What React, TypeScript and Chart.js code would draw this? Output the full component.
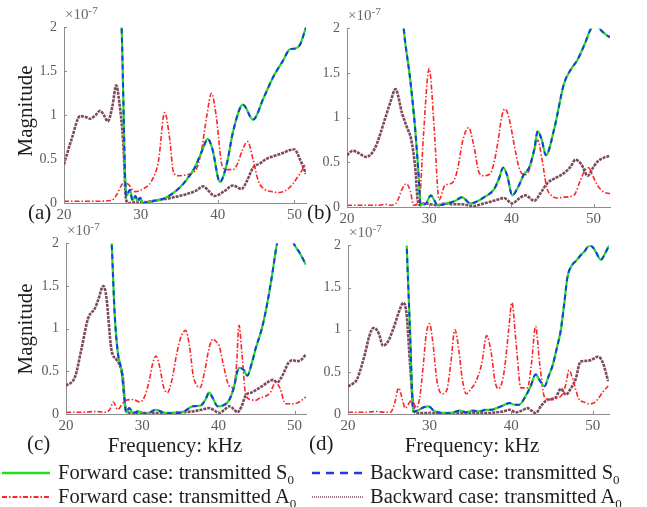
import React, { useEffect, useRef } from "react";
import { Chart, registerables } from "chart.js";
Chart.register(...registerables);

const SERIF = "'Liberation Serif', 'Times New Roman', serif";

// y tick values (units of 1e-7)
const yTicks = [0, 0.5, 1, 1.5, 2];
const xTickStep = 10;

// ---------- Panel (a) ----------
const aS0F = [27.2, 27.5, 28.1, 28.6, 28.9, 29.3, 29.6, 29.9, 30.3, 31.0, 32.0, 33.0, 34.0, 35.0, 36.0, 37.0, 38.0, 38.7, 39.3, 40.3, 41.2, 42.0, 43.3, 44.6, 46.0, 47.2, 48.5, 49.4, 50.1, 50.7, 51.5];
const aS0V = [2.6, 2.0, 0.08, 0.15, 0.03, 0.08, 0.02, 0.06, 0.0, 0.01, 0.03, 0.05, 0.1, 0.17, 0.27, 0.4, 0.6, 0.73, 0.62, 0.24, 0.45, 0.81, 1.12, 0.95, 1.2, 1.43, 1.62, 1.75, 1.76, 1.8, 2.0];
const aA0fF = [20, 22, 24, 26.2, 26.9, 27.4, 27.9, 28.5, 29.2, 30.3, 31.4, 32.3, 33.1, 33.8, 34.2, 34.8, 35.9, 36.6, 37.3, 37.9, 38.6, 39.2, 39.8, 40.6, 41.3, 42.0, 42.6, 43.2, 43.9, 44.6, 45.3, 45.9, 47.0, 48.0, 49.0, 49.8, 50.6, 51.5];
const aA0fV = [0.02, 0.02, 0.02, 0.03, 0.1, 0.19, 0.24, 0.2, 0.13, 0.16, 0.25, 0.48, 1.03, 0.7, 0.37, 0.31, 0.32, 0.34, 0.4, 0.6, 1.0, 1.25, 1.0, 0.42, 0.38, 0.38, 0.45, 0.6, 0.7, 0.5, 0.25, 0.17, 0.13, 0.12, 0.15, 0.22, 0.32, 0.45];
const aA0bF = [20, 21, 22.1, 22.8, 23.4, 24.1, 24.7, 25.2, 25.7, 26.3, 26.8, 27.2, 27.7, 28.1, 28.6, 29.5, 30.5, 32, 34, 35.9, 37.2, 38.1, 38.8, 39.6, 40.8, 42, 43.1, 43.8, 44.6, 45.5, 46.3, 47.5, 48.5, 49.3, 50.0, 50.7, 51.5];
const aA0bV = [0.44, 0.73, 0.99, 0.98, 0.96, 1.0, 1.05, 1.0, 0.93, 1.1, 1.34, 1.15, 0.7, 0.03, 0.0, 0.01, 0.01, 0.03, 0.06, 0.1, 0.14, 0.19, 0.14, 0.08, 0.13, 0.2, 0.16, 0.25, 0.4, 0.45, 0.5, 0.54, 0.57, 0.6, 0.61, 0.5, 0.33];

// ---------- Panel (b) ----------
const bS0F = [26.5, 26.9, 27.7, 28.3, 28.7, 28.95, 29.5, 30.2, 30.6, 31.0, 32.2, 33.2, 34.0, 35.0, 36.0, 36.7, 37.9, 38.5, 39.0, 39.5, 40.1, 40.8, 41.5, 42.2, 42.8, 43.2, 43.7, 44.2, 45.2, 46.4, 47.3, 48.0, 48.9, 49.7, 50.3, 51.0, 51.5, 52.0];
const bS0V = [2.5, 2.0, 1.42, 0.87, 0.37, 0.03, 0.03, 0.13, 0.08, 0.02, 0.04, 0.07, 0.11, 0.04, 0.07, 0.11, 0.2, 0.32, 0.44, 0.35, 0.13, 0.22, 0.36, 0.45, 0.65, 0.85, 0.75, 0.58, 0.87, 1.38, 1.55, 1.64, 1.82, 2.0, 2.04, 1.97, 1.93, 1.9];
const bA0fF = [20, 22, 24, 24.6, 25.4, 26.1, 26.7, 27.2, 27.7, 28.1, 28.8, 29.3, 30.0, 30.6, 31.2, 31.9, 32.8, 33.4, 34.1, 34.8, 35.4, 36.1, 36.7, 37.4, 37.9, 38.4, 38.8, 39.2, 39.7, 40.5, 41.0, 41.6, 42.2, 42.7, 43.2, 43.7, 44.3, 45.0, 45.6, 46.3, 47.6, 48.4, 49.0, 49.4, 49.9, 50.5, 51.2, 52.0];
const bA0fV = [0.02, 0.02, 0.02, 0.03, 0.02, 0.06, 0.2, 0.26, 0.18, 0.02, 0.07, 0.8, 1.55, 0.9, 0.08, 0.24, 0.27, 0.4, 0.75, 0.89, 0.7, 0.38, 0.35, 0.37, 0.5, 0.75, 1.0, 1.1, 1.0, 0.62, 0.42, 0.36, 0.42, 0.6, 0.75, 0.55, 0.22, 0.12, 0.1, 0.11, 0.13, 0.3, 0.42, 0.44, 0.35, 0.24, 0.17, 0.15];
const bA0bF = [20, 20.7, 21.5, 22.3, 23.0, 23.6, 24.6, 25.3, 25.9, 26.7, 27.3, 27.8, 28.3, 28.6, 28.9, 29.3, 29.6, 30.2, 31.0, 32.0, 33.0, 34.0, 35.4, 36.3, 37.1, 38.2, 39.1, 40.1, 41.0, 41.7, 42.8, 43.5, 44.4, 45.3, 46.4, 47.2, 47.8, 48.5, 49.3, 50.0, 50.5, 51.2, 51.9];
const bA0bV = [0.58, 0.63, 0.6, 0.56, 0.6, 0.7, 0.98, 1.18, 1.32, 1.05, 0.89, 0.76, 0.44, 0.08, 0.02, 0.04, 0.04, 0.03, 0.02, 0.04, 0.03, 0.03, 0.01, 0.03, 0.05, 0.08, 0.1, 0.04, 0.1, 0.13, 0.07, 0.15, 0.27, 0.32, 0.38, 0.45, 0.53, 0.48, 0.35, 0.45, 0.51, 0.55, 0.57];

// ---------- Panel (c) ----------
const cS0F = [25.8, 26.0, 26.4, 26.8, 27.3, 27.6, 27.9, 28.3, 28.8, 29.4, 30.5, 31.8, 33.1, 34.5, 35.5, 36.6, 37.7, 38.3, 38.8, 39.3, 39.9, 40.6, 41.4, 42.0, 42.7, 43.3, 43.8, 44.4, 44.9, 45.7, 46.4, 47.0, 47.7, 48.8, 49.9, 50.6, 51.5];
const cS0V = [2.4, 2.0, 1.15, 0.72, 0.5, 0.25, 0.02, 0.07, 0.01, 0.03, 0.0, 0.05, 0.01, 0.01, 0.03, 0.09, 0.1, 0.17, 0.25, 0.18, 0.09, 0.1, 0.16, 0.3, 0.54, 0.52, 0.45, 0.6, 0.77, 1.0, 1.29, 1.6, 2.0, 2.35, 2.0, 1.9, 1.75];
const cA0fF = [20, 22, 24, 25.2, 25.8, 26.2, 26.8, 27.4, 27.9, 28.8, 29.7, 30.3, 30.9, 31.4, 31.8, 32.3, 32.8, 33.3, 33.9, 34.5, 35.0, 35.7, 36.2, 36.7, 37.2, 37.6, 38.2, 38.8, 39.3, 39.7, 40.1, 40.6, 41.4, 42.0, 42.4, 42.7, 43.1, 43.6, 44.2, 44.9, 45.5, 46.0, 46.8, 47.5, 48.1, 48.8, 49.9, 50.6, 51.5];
const cA0fV = [0.02, 0.02, 0.03, 0.02, 0.06, 0.14, 0.05, 0.12, 0.16, 0.17, 0.14, 0.2, 0.38, 0.6, 0.68, 0.55, 0.32, 0.25, 0.4, 0.69, 0.88, 0.98, 0.8, 0.45, 0.33, 0.31, 0.5, 0.78, 0.88, 0.85, 0.8, 0.6, 0.33, 0.31, 0.6, 1.04, 0.7, 0.22, 0.17, 0.16, 0.19, 0.2, 0.25, 0.37, 0.3, 0.12, 0.12, 0.14, 0.2];
const cA0bF = [20, 21.2, 22.0, 22.9, 23.8, 24.2, 24.9, 25.3, 25.95, 26.6, 27.0, 27.5, 27.7, 28.0, 28.8, 30, 31.5, 33.1, 35, 36.6, 37.8, 38.8, 39.5, 40.1, 40.8, 41.4, 42.0, 42.5, 43.0, 43.6, 44.3, 44.9, 45.8, 46.6, 47.2, 47.7, 48.4, 49.2, 49.8, 50.3, 50.8, 51.5];
const cA0bV = [0.33, 0.44, 0.75, 1.12, 1.24, 1.33, 1.5, 1.37, 0.76, 0.64, 0.58, 0.4, 0.13, 0.03, 0.01, 0.01, 0.01, 0.01, 0.02, 0.03, 0.05, 0.07, 0.04, 0.01, 0.05, 0.09, 0.06, 0.02, 0.08, 0.22, 0.25, 0.28, 0.33, 0.38, 0.4, 0.37, 0.45, 0.6, 0.63, 0.62, 0.63, 0.7];

// ---------- Panel (d) ----------
const dS0F = [27.0, 27.2, 27.6, 28.0, 28.5, 29.3, 29.9, 30.5, 31.0, 31.7, 32.5, 33.7, 34.5, 35.3, 36.1, 36.9, 37.6, 38.2, 39.0, 39.8, 40.4, 41.0, 41.7, 42.4, 43.0, 43.5, 44.1, 44.6, 45.1, 45.6, 46.1, 46.5, 46.9, 47.5, 48.0, 48.5, 49.0, 49.6, 50.0, 50.4, 51.0, 51.5, 52.0];
const dS0V = [2.6, 2.0, 1.0, 0.03, 0.04, 0.08, 0.09, 0.04, 0.02, 0.01, 0.01, 0.04, 0.02, 0.04, 0.03, 0.05, 0.05, 0.07, 0.1, 0.13, 0.11, 0.11, 0.2, 0.33, 0.47, 0.4, 0.33, 0.45, 0.58, 0.78, 1.0, 1.3, 1.62, 1.77, 1.82, 1.88, 1.93, 2.0, 1.98, 1.92, 1.83, 1.9, 2.0];
const dA0fF = [20, 22, 23.5, 24.5, 25.2, 25.7, 26.2, 26.6, 27.0, 27.5, 27.8, 28.1, 28.4, 28.8, 29.2, 29.6, 30.0, 30.4, 30.9, 31.5, 32.1, 32.6, 33.1, 33.6, 34.0, 34.5, 35.1, 35.7, 36.4, 37.0, 37.6, 38.0, 38.4, 38.8, 39.2, 39.7, 40.1, 40.6, 41.2, 42.0, 42.5, 43.0, 43.5, 44.1, 44.8, 45.5, 46.3, 46.7, 47.1, 47.6, 48.3, 49.0, 49.6, 50.3, 50.8, 51.4, 51.9];
const dA0fV = [0.02, 0.02, 0.03, 0.02, 0.02, 0.12, 0.31, 0.2, 0.07, 0.13, 0.17, 0.12, 0.07, 0.2, 0.55, 0.95, 1.07, 0.85, 0.4, 0.24, 0.28, 0.6, 1.0, 0.75, 0.42, 0.24, 0.3, 0.39, 0.6, 0.93, 0.7, 0.4, 0.3, 0.35, 0.54, 1.0, 1.32, 0.85, 0.31, 0.31, 0.6, 1.04, 0.6, 0.2, 0.17, 0.18, 0.24, 0.35, 0.52, 0.4, 0.18, 0.14, 0.12, 0.14, 0.2, 0.28, 0.33];
const dA0bF = [20, 20.6, 21.1, 21.6, 22.1, 22.6, 23.1, 23.5, 23.8, 24.3, 24.9, 25.4, 25.8, 26.2, 26.8, 27.2, 27.6, 28.0, 28.4, 29, 31, 33, 35, 37, 38.2, 39.0, 39.8, 40.6, 41.3, 42.0, 42.5, 43.0, 43.7, 44.3, 45.0, 45.5, 46.1, 46.7, 47.3, 47.9, 48.5, 49.2, 49.8, 50.2, 50.6, 51.2, 51.9];
const dA0bV = [0.33, 0.36, 0.41, 0.55, 0.72, 0.92, 1.02, 1.0, 0.95, 0.81, 0.86, 0.97, 1.08, 1.2, 1.32, 1.17, 0.6, 0.1, 0.01, 0.01, 0.01, 0.01, 0.01, 0.01, 0.02, 0.03, 0.05, 0.02, 0.04, 0.07, 0.04, 0.01, 0.1, 0.16, 0.18, 0.2, 0.3, 0.23, 0.3, 0.41, 0.62, 0.63, 0.64, 0.66, 0.68, 0.62, 0.39];

const GREEN = "#22dd22";
const BLUE = "#1f35f0";
const RED = "#ff2525";
const BROWN = "#7c4a5c";
const AXIS = "#8c8c8c";
const TICKTXT = "#5c5c5c";

type PanelDef = {
  letter: string;
  l: number; r: number; t: number; b: number;
  xMax: number;
  s0F: number[]; s0V: number[];
  fF: number[]; fV: number[];
  bF: number[]; bV: number[];
};

const panels: PanelDef[] = [
  { letter: "a", l: 64, r: 306, t: 22, b: 203, xMax: 51.5, s0F: aS0F, s0V: aS0V, fF: aA0fF, fV: aA0fV, bF: aA0bF, bV: aA0bV },
  { letter: "b", l: 347, r: 610, t: 23, b: 207, xMax: 52, s0F: bS0F, s0V: bS0V, fF: bA0fF, fV: bA0fV, bF: bA0bF, bV: bA0bV },
  { letter: "c", l: 66, r: 306, t: 238, b: 414, xMax: 51.5, s0F: cS0F, s0V: cS0V, fF: cA0fF, fV: cA0fV, bF: cA0bF, bV: cA0bV },
  { letter: "d", l: 348, r: 609, t: 240, b: 414, xMax: 52, s0F: dS0F, s0V: dS0V, fF: dA0fF, fV: dA0fV, bF: dA0bF, bV: dA0bV },
];

const YW = 44;
const XH = 24;
const PAD = 10;

const pts = (f: number[], v: number[]) => f.map((x, i) => ({ x, y: v[i] }));

const innerTicks = {
  id: "innerTicks",
  afterDatasetsDraw(chart: any) {
    const { ctx, chartArea, scales } = chart;
    ctx.save();
    ctx.strokeStyle = AXIS;
    ctx.lineWidth = 1;
    ctx.beginPath();
    scales.x.ticks.forEach((t: any) => {
      const px = Math.round(scales.x.getPixelForValue(t.value)) + 0.5;
      ctx.moveTo(px, chartArea.bottom);
      ctx.lineTo(px, chartArea.bottom - 3);
    });
    scales.y.ticks.forEach((t: any) => {
      const py = Math.round(scales.y.getPixelForValue(t.value)) + 0.5;
      ctx.moveTo(chartArea.left, py);
      ctx.lineTo(chartArea.left + 3, py);
    });
    ctx.stroke();
    ctx.restore();
  },
};

function PanelChart({ p }: { p: PanelDef }) {
  const ref = useRef<HTMLCanvasElement>(null);
  const left = p.l - YW;
  const top = p.t - PAD;
  const w = p.r + PAD - left;
  const h = p.b + XH - top;
  useEffect(() => {
    const chart = new Chart(ref.current as HTMLCanvasElement, {
      type: "line",
      data: {
        datasets: [
          { label: "Backward S0", data: pts(p.s0F, p.s0V), borderColor: BLUE, borderWidth: 2, borderDash: [5, 4], order: 0 },
          { label: "Forward S0", data: pts(p.s0F, p.s0V), borderColor: GREEN, borderWidth: 2.2, order: 1 },
          { label: "Forward A0", data: pts(p.fF, p.fV), borderColor: RED, borderWidth: 1.6, borderDash: [5, 2, 1.5, 2], order: 2 },
          { label: "Backward A0", data: pts(p.bF, p.bV), borderColor: BROWN, borderWidth: 2.6, borderDash: [3, 1], order: 3 },
        ] as any,
      },
      options: {
        animation: false,
        responsive: false,
        devicePixelRatio: 1,
        layout: { padding: { top: PAD, right: PAD, left: 0, bottom: 0 } },
        elements: { point: { radius: 0 }, line: { cubicInterpolationMode: "monotone", fill: false } },
        plugins: { legend: { display: false }, tooltip: { enabled: false } },
        scales: {
          x: {
            type: "linear",
            min: 20,
            max: p.xMax,
            grid: { display: false, drawTicks: false },
            border: { display: true, color: AXIS, width: 1 },
            ticks: { stepSize: xTickStep, includeBounds: false, padding: 3, color: TICKTXT, font: { family: SERIF, size: 15 }, maxRotation: 0 },
            afterFit: (s: any) => { s.height = XH; },
          },
          y: {
            type: "linear",
            min: yTicks[0],
            max: yTicks[yTicks.length - 1],
            grid: { display: false, drawTicks: false },
            border: { display: true, color: AXIS, width: 1 },
            ticks: { stepSize: 0.5, padding: 7, color: TICKTXT, font: { family: SERIF, size: 14 }, callback: (v: any) => String(v) },
            afterFit: (s: any) => { s.width = YW; },
          },
        },
      } as any,
      plugins: [innerTicks],
    });
    return () => chart.destroy();
  }, []);
  return (
    <canvas
      ref={ref}
      width={w}
      height={h}
      style={{ position: "absolute", left, top, width: w, height: h }}
    />
  );
}

function Txt({ x, y, children, size = 17, color = "#1e1e1e", center = false, style = {} }: any) {
  return (
    <div
      style={{
        position: "absolute",
        left: x,
        top: y,
        transform: center ? "translate(-50%, -50%)" : "translateY(-50%)",
        fontFamily: SERIF,
        fontSize: size,
        color,
        whiteSpace: "nowrap",
        lineHeight: 1,
        ...style,
      }}
    >
      {children}
    </div>
  );
}

const Sub = ({ c }: { c: string }) => (
  <span style={{ fontSize: 13, position: "relative", top: 5 }}>{c}</span>
);

function LegendLine({ x, y, w, color, dash, width }: any) {
  return (
    <svg style={{ position: "absolute", left: x, top: y - 3 }} width={w} height={6}>
      <line x1={0} y1={3} x2={w} y2={3} stroke={color} strokeWidth={width} strokeDasharray={dash} />
    </svg>
  );
}

export default function App() {
  return (
    <div style={{ position: "absolute", left: 0, top: 0, width: 647, height: 507, background: "#fff", overflow: "hidden" }}>
      {panels.map((p) => (
        <PanelChart key={p.letter} p={p} />
      ))}
      {panels.map((p) => (
        <Txt key={"e" + p.letter} x={p.l + 1} y={p.t - 8} size={15} color="#6a6a6a">
          ×10<span style={{ fontSize: 11, position: "relative", top: -5 }}>-7</span>
        </Txt>
      ))}
      <Txt x={25} y={111} size={21} center style={{ transform: "translate(-50%, -50%) rotate(-90deg)" }}>Magnitude</Txt>
      <Txt x={25} y={329} size={21} center style={{ transform: "translate(-50%, -50%) rotate(-90deg)" }}>Magnitude</Txt>
      <Txt x={28} y={212} size={21}>(a)</Txt>
      <Txt x={307} y={212} size={21}>(b)</Txt>
      <Txt x={27} y={443} size={21}>(c)</Txt>
      <Txt x={309} y={443} size={21}>(d)</Txt>
      <Txt x={175} y={445} size={21} center>Frequency: kHz</Txt>
      <Txt x={472} y={445} size={21} center>Frequency: kHz</Txt>

      <LegendLine x={2} y={473} w={48} color={GREEN} width={2.5} />
      <Txt x={58} y={472} size={20.5}>Forward case: transmitted S<Sub c="0" /></Txt>
      <LegendLine x={312} y={473} w={52} color={BLUE} width={2.5} dash="8 6" />
      <Txt x={370} y={472} size={20.5}>Backward case: transmitted S<Sub c="0" /></Txt>
      <LegendLine x={2} y={497} w={48} color={RED} width={2} dash="5 2 1.5 2" />
      <Txt x={58} y={496} size={20.5}>Forward case: transmitted A<Sub c="0" /></Txt>
      <LegendLine x={312} y={497} w={52} color={BROWN} width={1.5} dash="1 1" />
      <Txt x={370} y={496} size={20.5}>Backward case: transmitted A<Sub c="0" /></Txt>
    </div>
  );
}
